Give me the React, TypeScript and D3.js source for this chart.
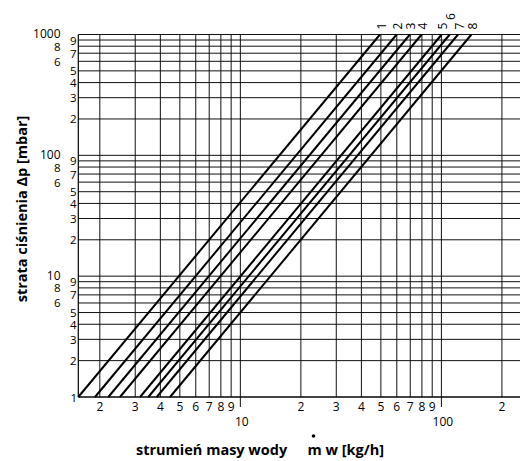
import React from 'react';
import * as d3 from 'd3';

const W = 520;
const H = 461;

// curve identifiers (drawn at top end of each line)
const curveLabels = ['1', '2', '3', '4', '5', '6', '7', '8'];
// flow [kg/h] read where each curve meets 1 mbar and 1000 mbar
const flowAt1mbar = [1.563, 1.893, 2.205, 2.52, 3.17, 3.485, 3.84, 4.47];
const flowAt1000mbar = [49.5, 59.9, 69.7, 79.7, 100.3, 110, 121, 141];
const pressureEnds = [1, 1000];

// x grid / ticks
const xGridValues = [2, 3, 4, 5, 6, 7, 8, 9, 10, 20, 30, 40, 50, 60, 70, 80, 90, 100, 200];
const xMinorLabelValues = [2, 3, 4, 5, 6, 7, 8, 9, 20, 30, 40, 50, 60, 70, 80, 90, 200];
const xDecadeValues = [10, 100];

// y grid / ticks
const yDecades = [1, 10, 100];
const yMantissas = [1, 2, 3, 4, 5, 6, 7, 8, 9];
const yInnerMantissas = [2, 3, 4, 5, 7, 9];
const yOuterMantissas = [6, 8];
const yDecadeLabels = [10, 100, 1000];

const xTitle = 'strumień masy wody';
const xTitleUnit = 'm w [kg/h]';
const yTitle = 'strata ciśnienia Δp [mbar]';

const FONT = '"Open Sans", "Noto Sans", sans-serif';

export default function App() {
  const left = 78.3;
  const right = 520;
  const top = 34.5;
  const bottom = 397;

  const x = d3.scaleLog().domain([1.563, 246]).range([left, right]);
  const y = d3.scaleLog().domain([1, 1000]).range([bottom, top]);

  const yGridValues: number[] = [];
  yDecades.forEach((d) => yMantissas.forEach((m) => yGridValues.push(m * d)));
  yGridValues.push(1000);

  const mant = (v: number) => String(Math.round(v / Math.pow(10, Math.floor(Math.log10(v) + 1e-9))));

  const line = d3
    .line<[number, number]>()
    .x((d) => x(d[0]))
    .y((d) => y(d[1]));

  const tickFs = 11.5;

  return (
    <svg
      width={W}
      height={H}
      viewBox={`0 0 ${W} ${H}`}
      style={{ position: 'absolute', left: 0, top: 0, background: '#fff' }}
      fontFamily={FONT}
    >
      <rect x={0} y={0} width={W} height={H} fill="#fff" />
      {/* horizontal grid */}
      {yGridValues.map((v) => (
        <line key={'h' + v} x1={left} x2={right} y1={y(v)} y2={y(v)} stroke="#111" strokeWidth={1} />
      ))}
      {/* vertical grid */}
      {xGridValues.map((v) => (
        <line
          key={'v' + v}
          x1={x(v)}
          x2={x(v)}
          y1={top}
          y2={xDecadeValues.includes(v) ? bottom + 10 : bottom}
          stroke="#111"
          strokeWidth={1}
        />
      ))}
      {/* axes */}
      <line x1={left} x2={left} y1={top} y2={bottom} stroke="#000" strokeWidth={1.2} />
      <line x1={left} x2={right} y1={bottom} y2={bottom} stroke="#000" strokeWidth={1.2} />

      {/* curves */}
      {curveLabels.map((lab, i) => (
        <path
          key={'c' + lab}
          d={line([
            [flowAt1mbar[i], pressureEnds[0]],
            [flowAt1000mbar[i], pressureEnds[1]],
          ]) as string}
          fill="none"
          stroke="#000"
          strokeWidth={2}
        />
      ))}
      {/* curve labels */}
      {curveLabels.map((lab, i) => {
        const cx = x(flowAt1000mbar[i]) + 1;
        const cy = lab === '6' ? 16.5 : 26;
        return (
          <text
            key={'cl' + lab}
            x={0}
            y={0}
            transform={`translate(${cx},${cy}) rotate(-90)`}
            textAnchor="middle"
            dominantBaseline="central"
            fontSize={12}
            fill="#000"
          >
            {lab}
          </text>
        );
      })}

      {/* x tick labels */}
      {xMinorLabelValues.map((v) => (
        <text key={'xl' + v} x={x(v)} y={406.5} textAnchor="middle" dominantBaseline="central" fontSize={12}>
          {mant(v)}
        </text>
      ))}
      {xDecadeValues.map((v) => (
        <text key={'xd' + v} x={x(v) + 1.5} y={421} textAnchor="middle" dominantBaseline="central" fontSize={12}>
          {String(v)}
        </text>
      ))}

      {/* y tick labels */}
      {yDecades.map((d) =>
        yInnerMantissas.map((m) => (
          <text key={'yi' + d + m} x={76.5} y={y(m * d)} textAnchor="end" dominantBaseline="central" fontSize={tickFs}>
            {String(m)}
          </text>
        ))
      )}
      {yDecades.map((d) =>
        yOuterMantissas.map((m) => (
          <text key={'yo' + d + m} x={60.5} y={y(m * d)} textAnchor="end" dominantBaseline="central" fontSize={tickFs}>
            {String(m)}
          </text>
        ))
      )}
      <text x={77} y={y(1)} textAnchor="end" dominantBaseline="central" fontSize={tickFs}>
        1
      </text>
      {yDecadeLabels.map((v) => (
        <text key={'yd' + v} x={60.5} y={y(v) - 1} textAnchor="end" dominantBaseline="central" fontSize={12}>
          {String(v)}
        </text>
      ))}

      {/* axis titles */}
      <text x={136} y={455} fontSize={14.5} fontWeight="bold" textAnchor="start">
        {xTitle}
      </text>
      <text x={384} y={455} fontSize={14.5} fontWeight="bold" textAnchor="end">
        {xTitleUnit}
      </text>
      <circle cx={313.5} cy={436} r={1.8} fill="#000" />
      <text
        x={0}
        y={0}
        transform={`translate(27,209) rotate(-90)`}
        fontSize={14.5}
        fontWeight="bold"
        textAnchor="middle"
      >
        {yTitle}
      </text>
    </svg>
  );
}
